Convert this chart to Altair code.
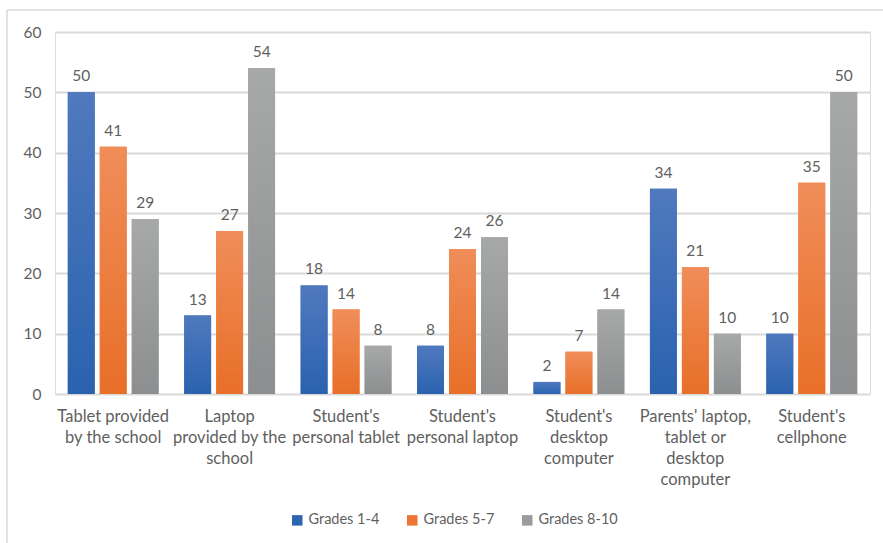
import altair as alt
import pandas as pd

# Device categories (| marks a line break in the axis label)
categories = [
    "Tablet provided|by the school",
    "Laptop|provided by the|school",
    "Student's|personal tablet",
    "Student's|personal laptop",
    "Student's|desktop|computer",
    "Parents' laptop,|tablet or|desktop|computer",
    "Student's|cellphone",
]
series = ["Grades 1-4", "Grades 5-7", "Grades 8-10"]
grades_1_4 = [50, 13, 18, 8, 2, 34, 10]
grades_5_7 = [41, 27, 14, 24, 7, 21, 35]
grades_8_10 = [29, 54, 8, 26, 14, 10, 50]

# Solid colours for the legend, and top/bottom shades for the bar gradients
solid = ["#2E65B1", "#EC7632", "#9A9B9C"]
shades = [("#5079BE", "#2A62AF"), ("#F08D59", "#E86F28"), ("#A7A8A8", "#8D8E8F")]

rows = []
for name, vals in zip(series, [grades_1_4, grades_5_7, grades_8_10]):
    for cat, v in zip(categories, vals):
        rows.append({"category": cat, "series": name, "value": v})
df = pd.DataFrame(rows)

FONT = "Lato"
TEXT = "#5f5f5f"
GRID = "#D9D9D9"

x_enc = alt.X(
    "category:N",
    sort=categories,
    scale=alt.Scale(paddingInner=0.22, paddingOuter=0.11),
    axis=alt.Axis(
        title=None,
        labelAngle=0,
        labelExpr="split(datum.label, '|')",
        labelFont=FONT,
        labelFontSize=16.5,
        labelColor=TEXT,
        labelLineHeight=21,
        labelPadding=14,
        labelBaseline="top",
        ticks=False,
        domain=False,
        labelLimit=0,
    ),
)
xo_enc = alt.XOffset("series:N", sort=series, scale=alt.Scale(paddingInner=0.16))
y_enc = alt.Y(
    "value:Q",
    scale=alt.Scale(domain=[0, 60]),
    axis=alt.Axis(
        title=None,
        values=[0, 10, 20, 30, 40, 50, 60],
        labelFont=FONT,
        labelFontSize=15.5,
        labelColor=TEXT,
        labelPadding=14,
        ticks=False,
        domain=False,
        gridColor=GRID,
        gridWidth=1.8,
    ),
)

base = alt.Chart(df)

bars = base.mark_bar().encode(
    x=x_enc,
    xOffset=xo_enc,
    y=y_enc,
    color=alt.Color(
        "series:N",
        sort=series,
        scale=alt.Scale(domain=series, range=solid),
        legend=alt.Legend(
            title=None,
            orient="none",
            direction="horizontal",
            legendX=235,
            legendY=481,
            symbolType="square",
            symbolSize=110,
            symbolStrokeWidth=0,
            labelFont=FONT,
            labelFontSize=14.5,
            labelColor=TEXT,
            columnPadding=25,
            labelOffset=4,
        ),
    ),
)

gradient_layers = []
for name, (top, bottom) in zip(series, shades):
    gradient_layers.append(
        base.transform_filter(alt.datum.series == name)
        .mark_bar(
            color=alt.Gradient(
                gradient="linear",
                stops=[
                    alt.GradientStop(color=top, offset=0),
                    alt.GradientStop(color=bottom, offset=1),
                ],
                x1=0, x2=0, y1=0, y2=1,
            )
        )
        .encode(x=x_enc, xOffset=xo_enc, y=y_enc)
    )

labels = base.mark_text(
    font=FONT, fontSize=15.5, color=TEXT, baseline="alphabetic", dy=-11
).encode(x=x_enc, xOffset=xo_enc, y=y_enc, text=alt.Text("value:Q"))

# Thin outer frame around the chart
frame_df = pd.DataFrame({"k": [0]})
frame_left = alt.Chart(frame_df).mark_rule(color=GRID, strokeWidth=1.5).encode(
    x=alt.value(-48), y=alt.value(-22), y2=alt.value(520)
)
frame_top = alt.Chart(frame_df).mark_rule(color=GRID, strokeWidth=1.5).encode(
    x=alt.value(-48), x2=alt.value(840), y=alt.value(-22)
)

chart = (
    alt.layer(bars, *gradient_layers, labels, frame_left, frame_top)
    .properties(
        width=815,
        height=362,
        autosize=alt.AutoSizeParams(type="none"),
        padding={"left": 55, "top": 32, "right": 13, "bottom": 149},
    )
    .configure_view(stroke=None)
    .configure(background="white")
)

chart.save("out.html", embed_options={"renderer": "svg", "actions": False})
